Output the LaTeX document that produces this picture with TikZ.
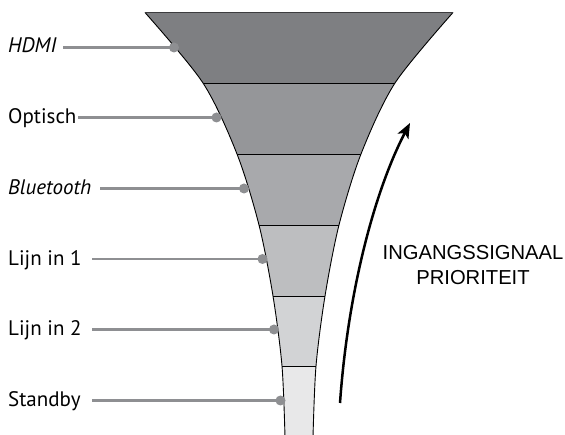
\documentclass[tikz,border=0pt]{standalone}
\usepackage{fontspec}
\setmainfont{PT Sans}
\newfontfamily\capsfont{Liberation Sans}
\usetikzlibrary{arrows.meta}
\definecolor{bandA}{RGB}{126,127,130}
\definecolor{bandB}{RGB}{149,150,153}
\definecolor{bandC}{RGB}{168,169,172}
\definecolor{bandD}{RGB}{189,190,192}
\definecolor{bandE}{RGB}{210,211,213}
\definecolor{bandF}{RGB}{232,232,233}
\definecolor{leadgray}{RGB}{142,143,146}
\definecolor{edgegray}{RGB}{60,60,62}

\begin{document}
\begin{tikzpicture}[
    x=1pt, y=-1pt,
    srclabel/.style={anchor=base west, inner sep=0pt, font=\fontsize{21}{24}\selectfont},
    srcdot/.style={circle, fill=leadgray, inner sep=0pt, minimum size=10pt},
    leader/.style={draw=leadgray, line width=2.6pt},
    sep/.style={draw=black, line width=0.9pt}
]
    \useasboundingbox (0,0) rectangle (565,435);

    % funnel bands
    \begin{scope}
        \clip plot[smooth] coordinates {(145,12.5) (203,83) (237,154) (259,225) (273,296) (282,366) (285,437)}
            -- (313,437) -- plot[smooth] coordinates {(313,437) (316,366) (325,296) (339,225) (361,154) (395,83) (453,12.5)} -- cycle;
        \fill[bandA] (0,0) rectangle (565,83);
        \fill[bandB] (0,83) rectangle (565,154);
        \fill[bandC] (0,154) rectangle (565,225);
        \fill[bandD] (0,225) rectangle (565,296);
        \fill[bandE] (0,296) rectangle (565,366);
        \fill[bandF] (0,366) rectangle (565,437);
        \draw[sep] (0,83) -- (565,83);
        \draw[sep] (0,154) -- (565,154);
        \draw[sep] (0,225) -- (565,225);
        \draw[sep] (0,296) -- (565,296);
        \draw[sep] (0,366) -- (565,366);
    \end{scope}
    \draw[sep] plot[smooth] coordinates {(145,12.5) (203,83) (237,154) (259,225) (273,296) (282,366) (285,437)};
    \draw[sep] plot[smooth] coordinates {(313,437) (316,366) (325,296) (339,225) (361,154) (395,83) (453,12.5)};
    \draw[edgegray, line width=1.6pt] (145,12.5) -- (453,12.5);

    % sources
    \node[srclabel] (hdmi) at (8,53) {\itshape HDMI};
    \node[srclabel] (opt) at (8,123.5) {Optisch};
    \node[srclabel] (bt) at (8,194.5) {\itshape Bluetooth};
    \node[srclabel] (lijn1) at (8,265.5) {Lijn in 1};
    \node[srclabel] (lijn2) at (8,336) {Lijn in 2};
    \node[srclabel] (stby) at (8,407) {Standby};

    \node[srcdot] (dhdmi) at (174,47.5) {};
    \node[srcdot] (dopt) at (216.5,117.5) {};
    \node[srcdot] (dbt) at (244,188.5) {};
    \node[srcdot] (dlijn1) at (262.5,259) {};
    \node[srcdot] (dlijn2) at (274,329.5) {};
    \node[srcdot] (dstby) at (280.5,400.5) {};

    \coordinate (shdmi) at (63,47.5);
    \coordinate (sopt) at (78,117.5);
    \coordinate (sbt) at (100,188.5);
    \coordinate (slijn1) at (92,259);
    \coordinate (slijn2) at (92,329.5);
    \coordinate (sstby) at (92,400.5);

    \draw[leader] (shdmi) -- (dhdmi.center);
    \draw[leader] (sopt) -- (dopt.center);
    \draw[leader] (sbt) -- (dbt.center);
    \draw[leader] (slijn1) -- (dlijn1.center);
    \draw[leader] (slijn2) -- (dlijn2.center);
    \draw[leader] (sstby) -- (dstby.center);

    % priority arrow
    \coordinate (atail) at (340,403);
    \coordinate (ahead) at (410,123);
    \draw[-{Stealth[length=15pt, width=12pt, inset=3.5pt]}, line width=2.5pt]
        (atail) .. controls (348,290) and (375,190) .. (ahead);
    \node[font=\capsfont\fontsize{20.2}{25}\selectfont, align=center, inner sep=0pt] (prio) at (473,265.5)
        {INGANGSSIGNAAL\\PRIORITEIT};
\end{tikzpicture}
\end{document}
